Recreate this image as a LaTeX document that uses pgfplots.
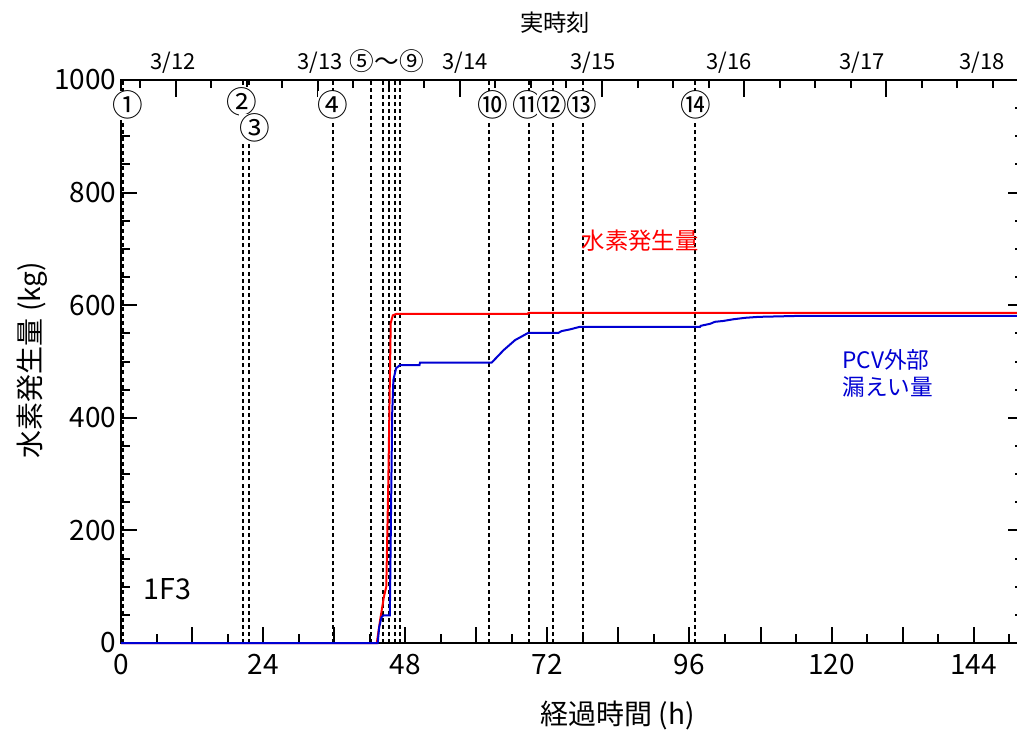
\documentclass[border=0pt]{standalone}
\usepackage{fontspec}
\setmainfont{Noto Sans CJK JP}
\usepackage{pgfplots}
\pgfplotsset{compat=1.18}
\definecolor{myblue}{RGB}{0,0,210}
\definecolor{myred}{RGB}{255,0,0}
\tikzset{evline/.style={black, line width=1.6pt, dash pattern=on 3pt off 2.3pt}}
\begin{document}
\begin{tikzpicture}
\path[use as bounding box] (-90.75pt,-67.5pt) rectangle (672pt,482.25pt);
% top (date) axis
\begin{axis}[
  at={(0pt,0pt)}, anchor=south west,
  scale only axis, width=677.25pt, height=422.25pt,
  xmin=0, xmax=152.5, ymin=0, ymax=1000,
  axis x line*=top, axis y line=none,
  xtick={9.23,33.23,57.23,81.23,105.23,129.23},
  minor xtick={3.23,15.23,21.23,27.23,39.23,45.23,51.23,63.23,69.23,75.23,87.23,93.23,99.23,111.23,117.23,123.23,135.23,141.23,147.23},
  xticklabels={},
  tick align=inside,
  major tick length=12.5pt, minor tick length=6pt,
  every tick/.style={black, line width=1.5pt},
  axis line style={line width=2.2pt},
]
\addplot[draw=none] coordinates {(0,0)};
\end{axis}
% main axis
\begin{axis}[
  at={(0pt,0pt)}, anchor=south west,
  scale only axis, width=677.25pt, height=422.25pt,
  xmin=0, xmax=152.5, ymin=0, ymax=1000,
  clip=false,
  axis line style={line width=2.2pt},
  xtick={0,12,...,144},
  xticklabels={0,,24,,48,,72,,96,,120,,144},
  minor xtick={6,18,...,150},
  xtick pos=left,
  ytick={0,200,...,1000},
  minor y tick num=3,
  tick align=inside,
  major tick length=12pt, minor tick length=6.5pt,
  every tick/.style={black, line width=1.5pt},
  tick label style={font=\fontsize{21}{25}\selectfont},
  xticklabel style={yshift=-5pt},
  /pgf/number format/assume math mode=true,
  /pgf/number format/1000 sep={},
  xlabel={経過時間 (h)},
  ylabel={水素発生量 (kg)},
  xlabel style={font=\fontsize{21}{25}\selectfont, at={(axis description cs:0.55,-0.128)}, anchor=center},
  ylabel style={font=\fontsize{21}{25}\selectfont, at={(axis description cs:-0.0985,0.503)}, anchor=center},
]
% event lines
\addplot[evline] coordinates {(0.25,0) (0.25,1000)};
\addplot[evline] coordinates {(20.66,0) (20.66,1000)};
\addplot[evline] coordinates {(21.6,0) (21.6,1000)};
\addplot[evline] coordinates {(35.76,0) (35.76,1000)};
\addplot[evline] coordinates {(42.23,0) (42.23,1000)};
\addplot[evline] coordinates {(44.2,0) (44.2,1000)};
\addplot[evline] coordinates {(45.3,0) (45.3,1000)};
\addplot[evline] coordinates {(46.3,0) (46.3,1000)};
\addplot[evline] coordinates {(47.1,0) (47.1,1000)};
\addplot[evline] coordinates {(62.2,0) (62.2,1000)};
\addplot[evline] coordinates {(68.9,0) (68.9,1000)};
\addplot[evline] coordinates {(73.0,0) (73.0,1000)};
\addplot[evline] coordinates {(78.0,0) (78.0,1000)};
\addplot[evline] coordinates {(97.0,0) (97.0,1000)};
% hydrogen generated
\addplot[myred, line width=1.5pt] coordinates {
(0,0) (43.2,0) (43.75,40) (44.4,82) (44.8,100) (45.15,289) (45.55,568) (45.9,582)
(46.5,584.5) (68.7,584.5) (68.8,586.5) (152.5,586.5)};
% leakage outside PCV
\addplot[myblue, line width=1.5pt] coordinates {
(0,0) (43.35,0) (43.6,28) (44.0,46) (44.3,49) (45.4,49) (45.6,230) (45.8,408)
(46.0,467) (46.45,488) (47.1,493.5) (50.4,493.5) (50.5,498) (62.6,498) (64.6,520)
(66.55,538) (68.8,551) (73.9,551) (74.4,554) (75.8,557) (77.5,561.6) (97.8,561.6)
(97.9,563.4) (99.5,567) (100.3,570.5) (101.7,572) (103.4,575) (105.4,577.6)
(107.65,579.3) (114.4,581) (152.5,581)};
% event labels
\tikzset{evlab/.style={font=\fontsize{23}{26}\selectfont, fill=white, inner sep=0pt}}
\node[evlab] at (axis cs:1.1,955) {①};
\node[evlab] at (axis cs:20.4,962) {②};
\node[evlab] at (axis cs:22.6,915) {③};
\node[evlab] at (axis cs:35.8,955) {④};
\node[evlab] at (axis cs:62.8,955) {⑩};
\node[evlab] at (axis cs:68.75,955) {⑪};
\node[evlab] at (axis cs:72.8,955) {⑫};
\node[evlab] at (axis cs:77.9,955) {⑬};
\node[evlab] at (axis cs:97.1,955) {⑭};
% top labels
\tikzset{datelab/.style={font=\fontsize{16.5}{20}\selectfont, anchor=base, inner sep=0pt}}
\node[datelab] at (axis cs:8.8,1018) {3/12};
\node[datelab] at (axis cs:33.6,1018) {3/13};
\node[font=\fontsize{18.5}{22}\selectfont, anchor=base, inner sep=0pt] at (axis cs:44.9,1016) {⑤～⑨};
\node[datelab] at (axis cs:58.1,1018) {3/14};
\node[datelab] at (axis cs:79.7,1018) {3/15};
\node[datelab] at (axis cs:102.65,1018) {3/16};
\node[datelab] at (axis cs:125.2,1018) {3/17};
\node[datelab] at (axis cs:145.4,1018) {3/18};
\node[font=\fontsize{17.5}{20}\selectfont] at (axis cs:73.3,1101) {実時刻};
% series labels
\node[font=\fontsize{17.5}{20}\selectfont, text=myred] at (axis cs:87.7,714) {水素発生量};
\node[font=\fontsize{17}{20}\selectfont, text=myblue, anchor=west, inner sep=0pt] at (axis cs:121.8,503) {PCV外部};
\node[font=\fontsize{17}{20}\selectfont, text=myblue, anchor=west, inner sep=0pt] at (axis cs:121.8,455) {漏えい量};
\node[font=\fontsize{21.5}{24}\selectfont] at (axis cs:7.85,95) {1F3};
\end{axis}
\end{tikzpicture}
\end{document}
